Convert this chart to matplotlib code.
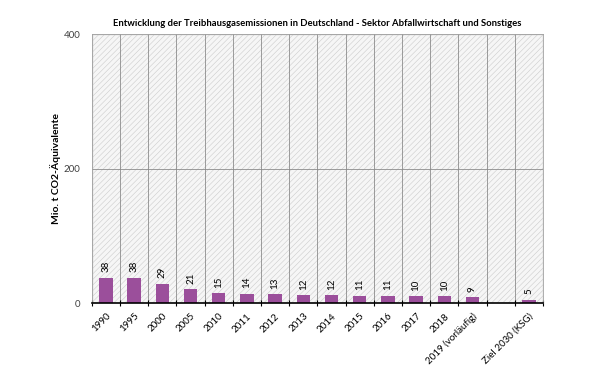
import matplotlib.pyplot as plt
import matplotlib.patches as mpatches
import numpy as np

plt.rcParams['font.family'] = ['Lato', 'DejaVu Sans']
plt.rcParams['hatch.linewidth'] = 0.4
plt.rcParams['hatch.color'] = '#cccccc'

labels = ['1990', '1995', '2000', '2005', '2010', '2011', '2012', '2013', '2014',
          '2015', '2016', '2017', '2018', '2019 (vorläufig)', '', 'Ziel 2030 (KSG)']
values = [38, 38, 29, 21, 15, 14, 13, 12, 12, 11, 11, 10, 10, 9, None, 5]

fig = plt.figure(figsize=(6, 3.79), dpi=100)
ax = fig.add_axes([0.153, 0.2, 0.752, 0.71])

# hatched plot background
bg = mpatches.Rectangle((0, 0), 1, 1, transform=ax.transAxes, facecolor='#f6f6f6',
                        edgecolor='#cccccc', hatch='//////', zorder=0)
ax.add_patch(bg)
ax.set_facecolor('white')

x = np.arange(len(labels))
for xi, v in zip(x, values):
    if v is None:
        continue
    ax.bar(xi, v, width=0.47, color='#9b4f9b', zorder=3)
    ax.text(xi, v + 8, str(v), rotation=90, ha='center', va='bottom', fontsize=7, zorder=4)

ax.set_xlim(-0.5, len(labels) - 0.5)
ax.set_ylim(0, 400)
ax.set_yticks([0, 200, 400])
ax.tick_params(axis='y', length=0, labelsize=7, colors='#404040', pad=8)

ax.set_xticks(x)
ax.set_xticklabels(labels, rotation=45, ha='right', rotation_mode='anchor', fontsize=7)
ax.tick_params(axis='x', which='major', length=0, pad=6)
ax.set_xticks(np.arange(len(labels) + 1) - 0.5, minor=True)
ax.tick_params(axis='x', which='minor', length=4, direction='inout', width=0.8)

for b in np.arange(1, len(labels)) - 0.5:
    ax.axvline(b, color='#8c8c8c', lw=0.6, zorder=1)
ax.axhline(200, color='#8c8c8c', lw=0.6, zorder=1)

for s in ['top', 'right', 'left']:
    ax.spines[s].set_color('#a0a0a0')
    ax.spines[s].set_linewidth(0.6)
ax.spines['bottom'].set_color('black')
ax.spines['bottom'].set_linewidth(1.2)
ax.spines['bottom'].set_zorder(5)

ax.set_ylabel('Mio. t CO2-Äquivalente', fontsize=7.5, fontweight='bold', labelpad=2)
ax.set_title('Entwicklung der Treibhausgasemissionen in Deutschland - Sektor Abfallwirtschaft und Sonstiges',
             fontsize=6.8, fontweight='bold', pad=6)

fig.savefig('out.png', dpi=100, facecolor='white')
